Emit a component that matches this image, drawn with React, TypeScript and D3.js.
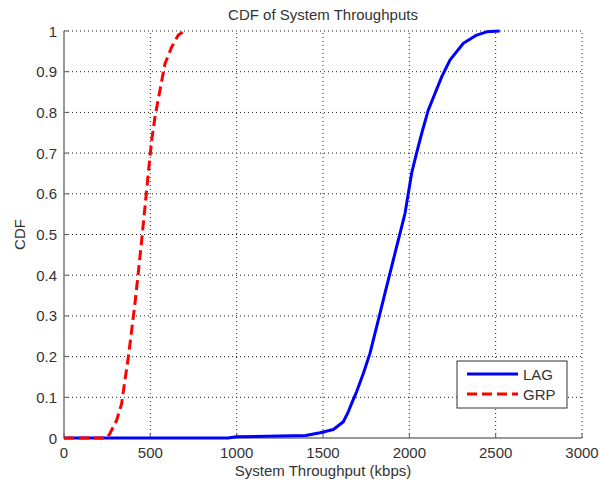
import React from "react";
import * as d3 from "d3";

const lagX = [0, 950, 1000, 1400, 1483, 1560, 1618, 1647, 1666, 1695, 1734, 1772, 1801, 1830, 1859, 1888, 1917, 1946, 1975, 1994, 2014, 2043, 2072, 2110, 2149, 2188, 2236, 2313, 2390, 2448, 2523];
const lagY = [0, 0, 0.003, 0.006, 0.013, 0.021, 0.04, 0.065, 0.085, 0.114, 0.159, 0.208, 0.257, 0.306, 0.356, 0.405, 0.454, 0.503, 0.552, 0.601, 0.652, 0.702, 0.749, 0.806, 0.847, 0.888, 0.929, 0.97, 0.99, 0.998, 1.0];
const grpX = [0, 247, 266, 305, 334, 353, 373, 392, 411, 430, 450, 469, 488, 508, 527, 556, 585, 624, 662, 691, 700];
const grpY = [0, 0, 0.011, 0.044, 0.085, 0.142, 0.2, 0.265, 0.331, 0.405, 0.486, 0.568, 0.65, 0.732, 0.789, 0.855, 0.92, 0.961, 0.99, 0.998, 1.0];
const xTicks = [0, 500, 1000, 1500, 2000, 2500, 3000];
const yTicks = [0, 0.1, 0.2, 0.3, 0.4, 0.5, 0.6, 0.7, 0.8, 0.9, 1];
const seriesNames = ["LAG", "GRP"];

const W = 600, H = 487;
const L = 64, R = 582, T = 31, B = 438;
const FONT = "'Liberation Sans', Arial, sans-serif";
const TXT = "#333";
const FS = 15;

export default function App() {
  const x = d3.scaleLinear().domain([0, 3000]).range([L, R]);
  const y = d3.scaleLinear().domain([0, 1]).range([B, T]);
  const line = d3.line<[number, number]>().x(d => x(d[0])).y(d => y(d[1]));
  const lag = line(lagX.map((v, i) => [v, lagY[i]] as [number, number])) || "";
  const grp = line(grpX.map((v, i) => [v, grpY[i]] as [number, number])) || "";

  return (
    <svg width={W} height={H} style={{ position: "absolute", left: 0, top: 0, background: "#fff" }} fontFamily={FONT}>
      <rect x={0} y={0} width={W} height={H} fill="#fff" />
      {xTicks.filter(t => t > 0).map(t => (
        <line key={"gx" + t} x1={x(t)} x2={x(t)} y1={B} y2={T} stroke="#222" strokeWidth={1} strokeDasharray="1,3" />
      ))}
      {yTicks.filter(t => t > 0).map(t => (
        <line key={"gy" + t} x1={L} x2={R} y1={y(t)} y2={y(t)} stroke="#222" strokeWidth={1} strokeDasharray="1,3" />
      ))}
      {xTicks.map(t => (
        <line key={"tx" + t} x1={x(t)} x2={x(t)} y1={B} y2={B - 5} stroke="#555" strokeWidth={1} />
      ))}
      {yTicks.map(t => (
        <line key={"ty" + t} x1={L} x2={L + 5} y1={y(t)} y2={y(t)} stroke="#555" strokeWidth={1} />
      ))}
      <line x1={L} x2={L} y1={T} y2={B + 0.75} stroke="#777" strokeWidth={1.5} />
      <line x1={L} x2={R} y1={B} y2={B} stroke="#777" strokeWidth={1.5} />
      <path d={lag} fill="none" stroke="#0000ff" strokeWidth={3} strokeLinejoin="round" />
      <path d={grp} fill="none" stroke="#ff0000" strokeWidth={3} strokeDasharray="10,5" />
      {xTicks.map(t => (
        <text key={"lx" + t} x={x(t)} y={458} textAnchor="middle" fontSize={FS} fill={TXT}>{t}</text>
      ))}
      {yTicks.map(t => (
        <text key={"ly" + t} x={57} y={y(t) + 5.5} textAnchor="end" fontSize={FS} fill={TXT}>{d3.format("~g")(t)}</text>
      ))}
      <text x={(L + R) / 2} y={20} textAnchor="middle" fontSize={FS} fill={TXT}>CDF of System Throughputs</text>
      <text x={(L + R) / 2} y={476} textAnchor="middle" fontSize={FS} fill={TXT}>System Throughput (kbps)</text>
      <text transform={`translate(25,${(T + B) / 2}) rotate(-90)`} textAnchor="middle" fontSize={FS} fill={TXT}>CDF</text>
      <rect x={457} y={361} width={110} height={47} fill="#fff" stroke="#333" strokeWidth={1} />
      <line x1={467} x2={518} y1={374} y2={374} stroke="#0000ff" strokeWidth={3} />
      <line x1={467} x2={518} y1={394} y2={394} stroke="#ff0000" strokeWidth={3} strokeDasharray="10,5" />
      <text x={523} y={379.5} fontSize={FS} fill={TXT}>{seriesNames[0]}</text>
      <text x={523} y={399.5} fontSize={FS} fill={TXT}>{seriesNames[1]}</text>
    </svg>
  );
}
